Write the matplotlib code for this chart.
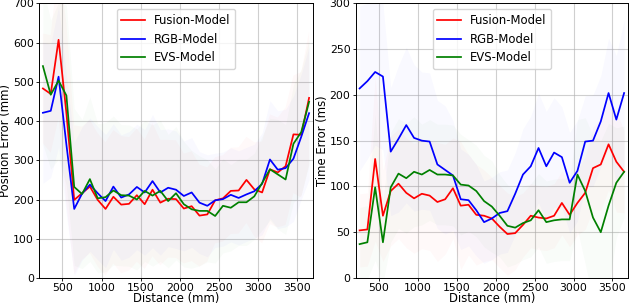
import matplotlib
matplotlib.use("Agg")
import matplotlib.pyplot as plt
import numpy as np

distance = list(range(250, 3651, 100))

fusion_pos = [483, 469, 607, 420, 199, 216, 233, 199, 176, 207, 187, 189, 211, 188, 225, 192, 202, 201,
              177, 183, 159, 162, 198, 203, 222, 223, 250, 226, 218, 277, 269, 285, 366, 365, 459]
rgb_pos = [421, 426, 513, 340, 176, 215, 238, 216, 196, 233, 205, 213, 232, 218, 247, 218, 230, 225,
           209, 218, 192, 184, 198, 201, 212, 204, 213, 221, 240, 302, 276, 280, 304, 360, 420]
evs_pos = [540, 467, 503, 465, 232, 214, 252, 203, 206, 223, 211, 210, 200, 222, 210, 222, 196, 216,
           188, 175, 171, 171, 158, 184, 179, 193, 193, 208, 242, 277, 264, 251, 342, 372, 449]

fusion_pos_std = [140, 150, 200, 230, 190, 170, 170, 170, 170, 170, 175, 170, 170, 165, 170, 160, 150, 150,
                  140, 140, 130, 120, 110, 110, 110, 110, 110, 120, 130, 140, 140, 150, 150, 160, 170]
rgb_pos_std = [180, 170, 180, 180, 170, 170, 170, 170, 170, 160, 160, 160, 160, 160, 170, 160, 150, 150,
               140, 140, 130, 130, 120, 120, 120, 120, 120, 120, 130, 150, 150, 150, 160, 160, 170]
evs_pos_std = [200, 190, 200, 230, 200, 190, 210, 190, 190, 190, 180, 180, 180, 180, 180, 180, 170, 170,
               160, 150, 140, 130, 120, 120, 110, 110, 110, 110, 120, 130, 140, 140, 150, 160, 160]

fusion_time = [52, 53, 130, 68, 95, 103, 93, 87, 92, 90, 83, 86, 98, 79, 80, 69, 68, 65,
               56, 48, 49, 58, 68, 66, 65, 68, 82, 69, 82, 93, 120, 124, 146, 127, 116]
rgb_time = [207, 215, 225, 220, 138, 152, 167, 153, 150, 149, 124, 118, 112, 86, 85, 74, 61, 65,
            71, 73, 92, 113, 122, 142, 122, 137, 132, 104, 117, 149, 150, 171, 202, 173, 202]
evs_time = [37, 39, 99, 39, 99, 114, 109, 116, 113, 118, 113, 113, 112, 102, 101, 95, 84, 78,
            68, 57, 55, 60, 63, 74, 61, 63, 64, 64, 113, 95, 66, 50, 79, 104, 116]

fusion_time_std = [40, 40, 90, 50, 60, 60, 60, 60, 60, 60, 65, 60, 55, 70, 55, 55, 50, 45,
                   45, 45, 40, 35, 35, 35, 35, 35, 35, 35, 35, 40, 45, 50, 50, 55, 45]
rgb_time_std = [90, 85, 80, 80, 70, 80, 85, 80, 75, 75, 70, 70, 60, 55, 50, 50, 45, 45,
                45, 45, 45, 50, 55, 60, 60, 60, 55, 55, 55, 50, 50, 50, 60, 70, 80]
evs_time_std = [40, 40, 80, 45, 60, 60, 60, 60, 55, 55, 55, 55, 55, 55, 50, 50, 50, 50,
                45, 45, 40, 40, 40, 40, 45, 45, 45, 45, 60, 80, 90, 100, 90, 60, 50]

labels = ["Fusion-Model", "RGB-Model", "EVS-Model"]
colors = ["red", "blue", "green"]

fig = plt.figure(figsize=(6.3, 3.06), dpi=100)
ax1 = fig.add_axes([39 / 630, 1 - 278 / 306, (313 - 39) / 630, (278 - 3.3) / 306])
ax2 = fig.add_axes([355.7 / 630, 1 - 278 / 306, (628 - 355.7) / 630, (278 - 3.3) / 306])

x = np.array(distance)
for ax, series, stds, ylim, ylabel in [
    (ax1, [fusion_pos, rgb_pos, evs_pos], [fusion_pos_std, rgb_pos_std, evs_pos_std], (0, 700), "Position Error (mm)"),
    (ax2, [fusion_time, rgb_time, evs_time], [fusion_time_std, rgb_time_std, evs_time_std], (0, 300), "Time Error (ms)"),
]:
    for y, s, lab, c in zip(series, stds, labels, colors):
        y = np.array(y, dtype=float)
        s = np.array(s, dtype=float)
        ax.fill_between(x, y - s, y + s, color=c, alpha=0.025, linewidth=0)
        ax.plot(x, y, color=c, lw=1.25, label=lab)
    ax.set_xlim(200, 3700)
    ax.set_ylim(*ylim)
    ax.grid(True, color="#b0b0b0", alpha=0.6, lw=0.8)
    ax.set_axisbelow(True)
    ax.set_xticks([500, 1000, 1500, 2000, 2500, 3000, 3500])
    ax.tick_params(labelsize=7.8, length=2.5, width=0.6, pad=1.2)
    ax.set_xlabel("Distance (mm)", fontsize=8.4, labelpad=-0.5)
    ax.set_ylabel(ylabel, fontsize=8.4, labelpad=0.5)
    ax.legend(loc="upper center", fontsize=8.4, framealpha=0.8, borderpad=0.4, handlelength=2.0)
    for sp in ax.spines.values():
        sp.set_linewidth(0.7)

fig.savefig("out.png", dpi=100)
